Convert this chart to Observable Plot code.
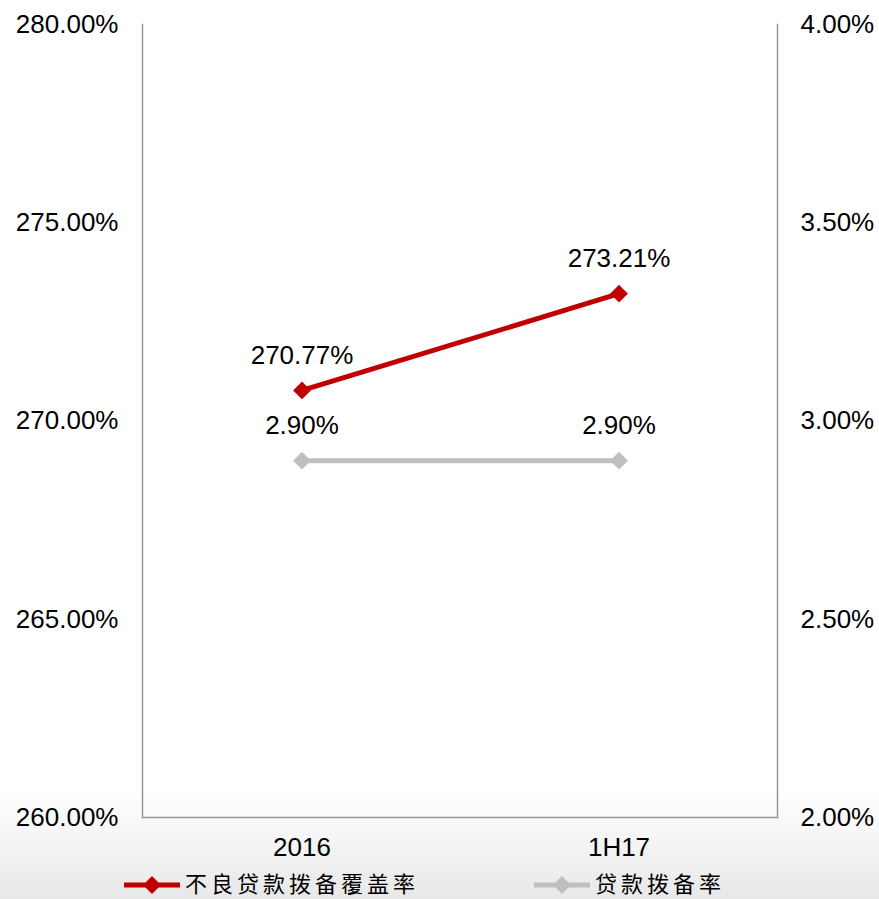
<!DOCTYPE html>
<html><head><meta charset="utf-8">
<script src="https://cdn.jsdelivr.net/npm/d3@7"></script>
<script src="https://cdn.jsdelivr.net/npm/@observablehq/plot@0.6"></script>
<style>
html,body{margin:0;padding:0;}
body{width:879px;height:899px;overflow:hidden;background:linear-gradient(to bottom,#fff 0px,#fff 790px,#e8e8e8 899px);font-family:"Liberation Sans",Arial,sans-serif;}
#chart svg{display:block;}
#legend{position:absolute;top:869px;left:0;width:879px;height:27px;font-family:"Noto Sans CJK SC",sans-serif;font-size:22px;line-height:27px;color:#000;}
.item{position:absolute;top:0;display:flex;align-items:center;height:27px;line-height:27px;}
</style></head><body>
<div id="chart"></div>
<div id="legend"></div>
<script>
const categories = ["2016", "1H17"];
const coverage = [270.77, 273.21];      // 不良贷款拨备覆盖率 (left axis)
const provision = [2.90, 2.90];         // 贷款拨备率 (right axis)
const leftTicks = [260, 265, 270, 275, 280];
const rightTicks = [2.0, 2.5, 3.0, 3.5, 4.0];
const seriesNames = ["不良贷款拨备覆盖率", "贷款拨备率"];
const colors = ["#C00000", "#BFBFBF"];

// map right-axis values onto left scale
const toLeft = v => 260 + (v - 2) * 10;

const d1 = categories.map((c, i) => ({cat: c, v: coverage[i], label: coverage[i].toFixed(2) + "%"}));
const d2 = categories.map((c, i) => ({cat: c, v: toLeft(provision[i]), label: provision[i].toFixed(2) + "%"}));

const FS = 26;
const plot = Plot.plot({
  width: 879, height: 866,
  marginTop: 24, marginBottom: 49, marginLeft: 142, marginRight: 102,
  style: {background: "transparent", fontFamily: "'Liberation Sans', Arial, sans-serif", fontSize: FS + "px", color: "#000", overflow: "visible"},
  x: {domain: categories, type: "band", padding: 0, label: null},
  y: {domain: [260, 280], label: null},
  marks: [
    Plot.frame({anchor: "left", stroke: "#999", strokeWidth: 1.5}),
    Plot.frame({anchor: "right", stroke: "#999", strokeWidth: 1.5}),
    Plot.frame({anchor: "bottom", stroke: "#999", strokeWidth: 1.5}),
    Plot.axisY({ticks: leftTicks, tickSize: 0, tickPadding: 24, tickFormat: d => d.toFixed(2) + "%", fontSize: FS, label: null}),
    Plot.axisY({anchor: "right", ticks: leftTicks, tickSize: 0, tickPadding: 23, textAnchor: "start", tickFormat: (d, i) => rightTicks[i].toFixed(2) + "%", fontSize: FS, label: null}),
    Plot.axisX({tickSize: 0, tickPadding: 20, fontSize: FS, label: null}),
    Plot.line(d2, {x: "cat", y: "v", stroke: colors[1], strokeWidth: 5}),
    Plot.dot(d2, {x: "cat", y: "v", symbol: "diamond2", r: 8, fill: colors[1], stroke: "none"}),
    Plot.text(d2, {x: "cat", y: "v", text: "label", dy: -35, fontSize: FS}),
    Plot.line(d1, {x: "cat", y: "v", stroke: colors[0], strokeWidth: 5}),
    Plot.dot(d1, {x: "cat", y: "v", symbol: "diamond2", r: 8, fill: colors[0], stroke: "none"}),
    Plot.text(d1, {x: "cat", y: "v", text: "label", dy: -35, fontSize: FS})
  ]
});
document.getElementById("chart").appendChild(plot);

// legend
const legend = document.getElementById("legend");
const positions = [124, 534];
seriesNames.forEach((name, i) => {
  const item = document.createElement("div");
  item.className = "item";
  item.style.left = positions[i] + "px";
  item.innerHTML = `<svg width="58" height="27"><line x1="0" y1="16" x2="56" y2="16" stroke="${colors[i]}" stroke-width="5"/><path d="M28,7 L37,16 L28,25 L19,16 Z" fill="${colors[i]}"/></svg><span style="margin-left:3px;letter-spacing:4px">${name}</span>`;
  legend.appendChild(item);
});
</script>
</body></html>
